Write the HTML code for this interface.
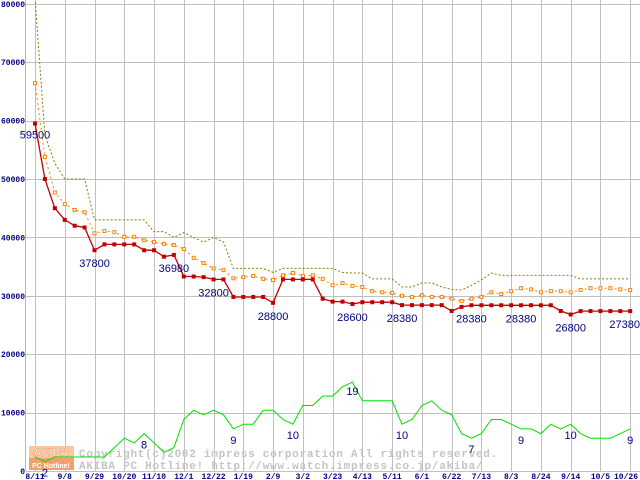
<!DOCTYPE html>
<html><head><meta charset="utf-8"><style>
html,body{margin:0;padding:0;background:#fff;width:640px;height:480px;overflow:hidden}
svg{display:block}
.tk{font:bold 8px "Liberation Mono","DejaVu Sans Mono",monospace;fill:#000080}
.lb{font:11px "Liberation Sans","DejaVu Sans",sans-serif;fill:#000080}
.wm{font:bold 11px "Liberation Mono","DejaVu Sans Mono",monospace;fill:#c4c4c4;letter-spacing:0.75px}
</style></head><body>
<svg id="chart" width="640" height="480" viewBox="0 0 640 480" xmlns="http://www.w3.org/2000/svg">
<g id="grid"></g>
<g id="watermark">
  <rect x="29" y="446" width="45" height="12" fill="#f8c8a0"/>
  <rect x="29" y="458" width="45" height="12" fill="#f0a070"/>
  <text x="51" y="456" text-anchor="middle" style="font:bold 11px 'Liberation Sans',sans-serif;fill:#fff;stroke:#f0a070;stroke-width:0.6">AKIBA</text>
  <text x="51" y="468" text-anchor="middle" style="font:bold 7px 'Liberation Sans',sans-serif;fill:#fff">PC Hotline!</text>
  <text class="wm" x="79" y="457">Copyright(c)2002 impress corporation All rights reserved.</text>
  <text class="wm" x="79" y="469">AKIBA PC Hotline!  http://www.watch.impress.co.jp/akiba/</text>
</g>
<g id="series"></g>
<g id="labels"></g>
</svg>
<script>
const xLabels=["8/11","9/8","9/29","10/20","11/10","12/1","12/22","1/19","2/9","3/2","3/23","4/13","5/11","6/1","6/22","7/13","8/3","8/24","9/14","10/5","10/26"];
const yTicks=[0,10000,20000,30000,40000,50000,60000,70000,80000];
const minPrice=[59500,50000,45000,43000,42000,41700,37800,38800,38800,38800,38800,37800,37800,36700,37000,33300,33300,33200,32800,32800,29800,29800,29800,29800,28800,32800,32800,32800,32800,29500,29000,29000,28600,28900,28900,28900,28900,28400,28400,28400,28400,28400,27400,28100,28380,28380,28380,28380,28380,28380,28380,28380,28380,27400,26800,27380,27380,27380,27380,27380,27380];
const avgPrice=[66400,53800,47700,45700,44700,44300,40700,41100,40900,40100,40100,39500,39200,38900,38700,38000,36500,35600,34700,34400,33000,33200,33400,32900,32700,33500,33900,33400,33500,32900,31800,32200,31700,31500,30800,30600,30500,30000,29800,30100,29800,29800,29500,29100,29500,29800,30600,30300,30800,31300,31100,30600,30800,30800,30600,31000,31300,31300,31300,31100,31000];
const maxPrice=[81000,57500,52700,50000,50000,50000,43000,43000,43000,43000,43000,43000,41000,41000,40000,40800,40000,39200,40000,39200,34700,34700,34700,34700,34000,34700,34700,34700,34700,34700,34700,34000,33900,33900,32900,32900,32900,31500,31500,32200,32200,31500,31100,31000,31800,32700,33900,33500,33500,33500,33500,33500,33500,33500,33500,32900,32900,32900,32900,32900,32900];
const shopCount=[3,2,3,3,3,3,3,3,5,7,6,8,6,4,5,11,13,12,13,12,9,10,10,13,13,11,10,14,14,16,16,18,19,15,15,15,15,10,11,14,15,13,12,8,7,8,11,11,10,9,9,8,10,9,10,8,7,7,7,8,9];
const priceLabelIdx=[0,6,14,18,24,32,37,44,49,54,60];
const priceLabelText=["59500","37800","36980","32800","28800","28600","28380","28380","28380","26800","27380"];
const countLabelIdx=[1,11,20,26,32,37,44,49,54,60];
const countLabelText=["2","8","9","10","19","10","7","9","10","9"];

const NS="http://www.w3.org/2000/svg";
const X0=35,DX=9.92,Y0=471,PPY=58.4/10000,PPC=4.68;
const xs=i=>X0+i*DX;
const yp=v=>Y0-v*PPY;
const yc=n=>Y0-n*PPC;
function mk(tag,attrs,parent){const e=document.createElementNS(NS,tag);for(const k in attrs)e.setAttribute(k,attrs[k]);parent.appendChild(e);return e;}
const grid=document.getElementById('grid'),ser=document.getElementById('series'),lab=document.getElementById('labels');
let ax=mk('line',{x1:25.5,y1:0,x2:25.5,y2:Y0,stroke:'#b8b8b8'},grid);


yTicks.forEach(v=>{
  const y=Math.round(yp(v))+0.5;
  const l=mk('line',{x1:26,y1:y,x2:640,y2:y,stroke:'#c0c0c0'},grid);
  
  
  const t=mk('text',{x:25,y:yp(v)+3,'text-anchor':'end',class:'tk'},grid);
  t.textContent=String(v);
  
  
});
xLabels.forEach((s,k)=>{
  const x=Math.round(xs(k*3))+0.5;
  const l=mk('line',{x1:x,y1:0,x2:x,y2:Y0,stroke:'#c0c0c0'},grid);
  
  
  const t=mk('text',{x:Math.min(xs(k*3),626),y:479,'text-anchor':'middle',class:'tk'},grid);
  t.textContent=s;
  
  
});
function poly(arr,fy,attrs,name){
  const p=mk('polyline',Object.assign({points:arr.map((v,i)=>xs(i).toFixed(1)+','+fy(v).toFixed(1)).join(' '),fill:'none'},attrs),ser);
  
  
}
poly(maxPrice,yp,{stroke:'#808000','stroke-dasharray':'2,2'},'max-price-line');
poly(avgPrice,yp,{stroke:'#ff8000','stroke-dasharray':'2,3'},'avg-price-line');
avgPrice.forEach((v,i)=>{
  const r=mk('rect',{x:xs(i)-1.5,y:yp(v)-1.5,width:3,height:3,fill:'#fff',stroke:'#ff8000'},ser);
  
  
});
poly(minPrice,yp,{stroke:'#c00000','stroke-width':1.3},'min-price-line');
minPrice.forEach((v,i)=>{
  const r=mk('rect',{x:xs(i)-2,y:yp(v)-2,width:4,height:4,fill:'#c00000'},ser);
  
  
});
poly(shopCount,yc,{stroke:'#00e000'},'shop-count-line');
priceLabelIdx.forEach((i,k)=>{
  const last=(i===minPrice.length-1);
  const t=mk('text',{x:last?640:xs(i),y:yp(minPrice[i])+(i===0?15:17),'text-anchor':last?'end':'middle',class:'lb'},lab);
  t.textContent=priceLabelText[k];
  
  
});
countLabelIdx.forEach((i,k)=>{
  const t=mk('text',{x:xs(i),y:yc(shopCount[i])+(i===32?13:15),'text-anchor':'middle',class:'lb'},lab);
  t.textContent=countLabelText[k];
  
  
});
</script>
</body></html>
